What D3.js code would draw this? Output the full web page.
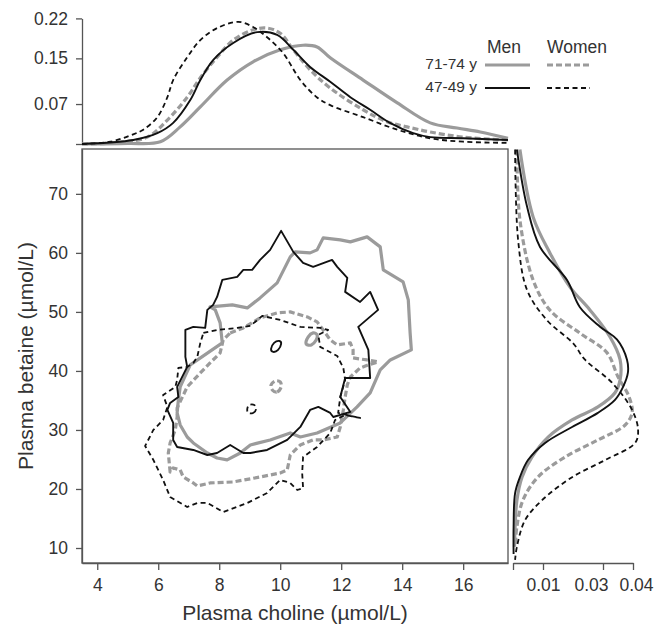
<!DOCTYPE html>
<html>
<head>
<meta charset="utf-8">
<script src="https://cdn.jsdelivr.net/npm/d3@7"></script>
<style>
  body { margin: 0; background: #fff; }
  svg text { font-family: "Liberation Sans", Arial, sans-serif; fill: #333; }
</style>
</head>
<body>
<svg id="chart" width="656" height="624"></svg>
<script>
// ---- data ----
const cholineTicks = [4, 6, 8, 10, 12, 14, 16];
const betaineTicks = [10, 20, 30, 40, 50, 60, 70];
const topDensTicks = [0, 0.07, 0.15, 0.22];
const sideDensTicks = [0, 0.01, 0.03, 0.04];

const legendCols = ["Men", "Women"];
const legendRows = ["71-74 y", "47-49 y"];

// choline density (top panel): [choline, density]
const cholOldMen = [[3.5,0],[5.0,0.001],[6.07,0.004],[6.72,0.03],[7.38,0.065],[8.26,0.112],[9.11,0.144],[10.0,0.165],[10.75,0.173],[11.21,0.17],[11.64,0.151],[12.72,0.112],[13.84,0.072],[14.92,0.037],[15.8,0.028],[16.56,0.021],[17.47,0.01]];
const cholOldWomen = [[3.5,0],[4.5,0.002],[5.64,0.012],[6.3,0.042],[6.95,0.082],[7.38,0.116],[7.93,0.152],[8.46,0.182],[9.11,0.2],[9.57,0.203],[10.0,0.194],[10.43,0.165],[10.98,0.13],[11.64,0.098],[12.72,0.06],[13.5,0.039],[14.16,0.03],[14.92,0.021],[16.0,0.012],[17.47,0.007]];
const cholYoungMen = [[3.5,0],[5.18,0.007],[5.97,0.019],[6.49,0.037],[7.05,0.077],[7.38,0.112],[7.8,0.147],[8.46,0.177],[9.25,0.196],[9.9,0.191],[10.43,0.165],[10.98,0.135],[11.64,0.109],[12.3,0.082],[12.95,0.06],[13.6,0.037],[14.36,0.019],[14.92,0.012],[16.0,0.01],[17.47,0.007]];
const cholYoungWomen = [[3.5,0],[4.43,0.004],[5.18,0.017],[5.51,0.025],[5.97,0.047],[6.3,0.082],[6.49,0.112],[6.95,0.152],[7.38,0.182],[7.93,0.203],[8.62,0.214],[9.11,0.205],[9.57,0.187],[10.1,0.159],[10.66,0.112],[11.2,0.082],[11.64,0.068],[12.72,0.047],[13.84,0.025],[14.92,0.01],[16.0,0.004],[17.47,0.002]];

// betaine density (right panel): [betaine, density]
const betOldMen = [[77.5,0.0023],[66.1,0.0067],[60.0,0.0123],[54.2,0.019],[50.3,0.0257],[45.8,0.0323],[41.9,0.0357],[38.5,0.0357],[36.3,0.034],[33.9,0.0283],[31.7,0.0197],[28.8,0.0117],[25.4,0.0063],[22.0,0.003],[18.1,0.0013],[13.6,0.0007],[10.2,0.0005]];
const betOldWomen = [[77.5,0.0013],[65.6,0.0023],[55.4,0.0067],[50.3,0.0123],[46.4,0.0223],[43.1,0.0313],[39.0,0.035],[35.6,0.0387],[32.9,0.0397],[30.8,0.0373],[28.3,0.0283],[25.4,0.0173],[22.0,0.0083],[18.1,0.0033],[13.6,0.0013],[10.2,0.0007]];
const betYoungMen = [[77.5,0.0013],[67.8,0.0047],[61.0,0.009],[55.4,0.018],[50.8,0.0223],[47.5,0.029],[45.3,0.0347],[41.9,0.038],[39.7,0.0383],[37.3,0.0367],[35.1,0.034],[32.9,0.0283],[30.5,0.0197],[27.8,0.0107],[24.9,0.005],[22.0,0.0023],[19.3,0.0007],[13.6,0.0002],[9.0,0.0002]];
const betYoungWomen = [[77.5,0.0007],[62.2,0.0017],[53.7,0.0047],[48.6,0.0113],[44.7,0.02],[41.9,0.024],[38.0,0.033],[33.4,0.0397],[30.0,0.0417],[27.8,0.0407],[24.9,0.0307],[22.0,0.0197],[18.1,0.0097],[14.7,0.004],[10.2,0.0013],[8.0,0.0007]];

// joint density contours: [choline, betaine]
const contOldMen = [[7.70,50.85],[8.43,51.19],[8.92,50.68],[9.34,52.37],[9.90,54.92],[10.33,59.32],[10.49,60.17],[10.98,60.0],[11.21,60.51],[11.41,62.54],[11.97,62.2],[12.30,61.86],[12.85,62.71],[13.28,61.02],[13.38,57.12],[14.03,55.08],[14.20,52.03],[14.26,46.44],[14.30,43.56],[13.61,41.86],[13.28,40.17],[12.95,36.27],[12.52,33.9],[11.97,31.19],[11.21,29.49],[10.66,28.81],[10.33,29.49],[9.67,28.31],[9.02,27.46],[8.69,26.1],[8.26,24.92],[7.93,25.25],[7.61,26.1],[7.15,27.8],[6.95,28.81],[6.72,30.85],[6.62,32.88],[6.66,35.08],[6.72,37.29],[7.05,41.02],[8.10,44.75],[8.03,48.14],[7.87,50.34]];
const contOldWomen = [[8.36,46.44],[8.79,47.29],[9.34,48.98],[9.90,49.83],[10.33,50.0],[10.89,49.15],[11.21,48.31],[11.41,46.95],[11.64,45.25],[11.87,44.41],[12.30,44.75],[12.39,43.56],[12.39,42.2],[12.85,41.86],[13.21,41.53],[12.89,41.02],[12.62,40.51],[12.30,38.98],[12.20,37.63],[12.13,35.59],[12.07,33.39],[11.97,30.51],[11.87,28.81],[11.41,28.31],[11.08,28.31],[10.66,27.46],[10.33,25.76],[10.23,23.22],[10.0,22.71],[9.34,22.03],[8.46,21.19],[7.70,21.02],[7.28,20.51],[7.15,21.02],[6.82,22.03],[6.72,23.22],[6.49,23.56],[6.39,22.88],[6.33,26.1],[6.39,27.8],[6.56,30.0],[6.62,32.2],[6.62,33.73],[6.95,37.29],[7.38,39.66],[7.70,41.36],[8.03,43.05],[8.13,45.25]];
const contYoungMen = [[10.03,63.73],[10.43,60.17],[10.75,58.31],[11.08,57.63],[11.70,58.81],[11.87,57.63],[12.20,55.76],[12.13,53.39],[12.62,51.69],[12.95,53.39],[13.21,50.34],[12.56,47.46],[12.89,43.56],[12.95,38.81],[12.13,38.81],[11.97,35.59],[12.30,33.05],[11.74,32.2],[11.64,32.88],[11.25,33.9],[10.98,33.39],[10.66,30.51],[10.23,28.31],[9.57,26.61],[9.02,26.1],[8.79,26.1],[8.36,27.46],[7.93,26.1],[7.61,25.76],[7.15,26.61],[6.62,27.12],[6.49,28.31],[6.49,31.19],[6.30,33.39],[6.39,34.58],[6.66,35.59],[6.62,37.29],[6.95,40.68],[6.89,42.37],[6.89,46.95],[7.15,47.46],[7.54,47.29],[7.61,50.34],[7.80,51.19],[7.93,52.54],[8.10,55.42],[8.59,55.93],[8.79,57.12],[9.08,57.12],[9.34,58.81],[9.67,60.51]];
const contYoungWomen = [[7.48,46.44],[7.93,46.95],[8.59,47.29],[9.02,47.63],[9.41,49.32],[10.0,48.64],[10.66,47.46],[11.31,47.29],[11.57,46.95],[11.25,46.1],[11.31,44.07],[11.87,42.54],[12.07,40.51],[12.13,38.47],[11.97,35.59],[11.90,32.88],[12.30,32.37],[12.62,32.03],[12.13,32.54],[11.80,31.69],[11.64,29.49],[11.21,27.12],[10.75,25.42],[10.72,22.71],[10.75,20.17],[10.56,19.83],[10.33,21.02],[10.0,21.53],[9.57,19.32],[8.92,17.63],[8.13,16.1],[7.61,17.63],[7.28,17.63],[6.95,16.95],[6.39,18.64],[6.16,21.53],[5.84,24.92],[5.57,27.29],[5.84,30.0],[6.16,31.69],[6.30,33.9],[6.16,35.93],[6.56,37.29],[6.62,38.47],[6.66,40.51],[6.95,40.68],[7.15,41.36],[7.28,42.37],[7.38,44.75]];

// small inner contours
const coreOldMen = [[10.85,44.58],[11.02,44.41],[11.18,45.25],[11.21,46.1],[11.08,46.44],[10.92,45.76]];
const coreOldWomen = [[9.74,36.78],[9.90,36.44],[10.03,37.29],[10.0,38.14],[9.84,38.31],[9.70,37.63]];
const coreYoungMen = [[9.77,43.22],[9.93,43.56],[10.03,44.58],[9.97,45.08],[9.80,44.75],[9.70,43.73]];
const coreYoungWomen = [[8.95,32.88],[9.11,32.88],[9.21,33.56],[9.15,34.24],[8.98,34.24],[8.92,33.56]];

// ---- styles ----
const GRAY = "#9b9b9b", BLACK = "#111";
const styles = {
  oldMen:     { stroke: GRAY,  width: 3.2, dash: null },
  oldWomen:   { stroke: GRAY,  width: 3.2, dash: "6,3" },
  youngMen:   { stroke: BLACK, width: 1.9, dash: null },
  youngWomen: { stroke: BLACK, width: 1.8, dash: "5,3.5" }
};

const groups = [
  { key: "oldWomen",   chol: cholOldWomen,   bet: betOldWomen,   cont: contOldWomen,   core: coreOldWomen },
  { key: "oldMen",     chol: cholOldMen,     bet: betOldMen,     cont: contOldMen,     core: coreOldMen },
  { key: "youngWomen", chol: cholYoungWomen, bet: betYoungWomen, cont: contYoungWomen, core: coreYoungWomen },
  { key: "youngMen",   chol: cholYoungMen,   bet: betYoungMen,   cont: contYoungMen,   core: coreYoungMen }
];

const svg = d3.select("#chart");
const AXIS = "#555", FS = 17.5;

// scales
const x = d3.scaleLinear().domain([3.5, 17.47]).range([82, 508]);
const y = d3.scaleLinear().domain([7.46, 77.6]).range([563, 149]);
const topY = d3.scaleLinear().domain([0, 0.22]).range([144, 18.4]);
const sideX = d3.scaleLinear().domain([0, 0.04]).range([513, 633]);

function styleAxis(g) {
  g.selectAll("path, line").attr("stroke", AXIS).attr("stroke-width", 1.3);
  g.selectAll("text").attr("font-size", FS).attr("font-family", "Liberation Sans, Arial, sans-serif").attr("fill", "#333");
}

function applyStyle(sel, k) {
  const s = styles[k];
  sel.attr("fill", "none")
    .attr("stroke", s.stroke)
    .attr("stroke-width", s.width)
    .attr("stroke-dasharray", s.dash)
    .attr("stroke-linejoin", "round");
}

// main frame
svg.append("rect")
  .attr("x", 82).attr("y", 149)
  .attr("width", 508 - 82).attr("height", 563 - 149)
  .attr("fill", "none").attr("stroke", AXIS).attr("stroke-width", 1.3);

// axes
svg.append("g").attr("transform", "translate(0,563)")
  .call(d3.axisBottom(x).tickValues(cholineTicks).tickSize(7).tickPadding(9).tickSizeOuter(0))
  .call(styleAxis);

svg.append("g").attr("transform", "translate(82,0)")
  .call(d3.axisLeft(y).tickValues(betaineTicks).tickSize(6).tickPadding(8).tickSizeOuter(0))
  .call(styleAxis);

svg.append("g").attr("transform", "translate(82,0)")
  .call(d3.axisLeft(topY).tickValues(topDensTicks).tickSize(6).tickPadding(8).tickSizeOuter(0)
    .tickFormat(d => d === 0 ? "" : d3.format(".2f")(d)))
  .call(styleAxis);

const sideAxis = svg.append("g").attr("transform", "translate(0,563)")
  .call(d3.axisBottom(sideX).tickValues(sideDensTicks).tickSize(7).tickPadding(9).tickSizeOuter(0)
    .tickFormat(d => d === 0 ? "" : d3.format(".2f")(d)))
  .call(styleAxis);
// the two right-most labels are nudged apart, as in the original
sideAxis.selectAll(".tick text")
  .attr("dx", d => d === 0.03 ? -12 : d === 0.04 ? 3 : 0);

// axis titles
svg.append("text")
  .attr("x", 295).attr("y", 620)
  .attr("text-anchor", "middle").attr("font-size", 21)
  .text("Plasma choline (\u00b5mol/L)");

svg.append("text")
  .attr("transform", "translate(33,356) rotate(-90)")
  .attr("text-anchor", "middle").attr("font-size", 21)
  .text("Plasma betaine (\u00b5mol/L)");

// lines
const topLine = d3.line().x(d => x(d[0])).y(d => topY(d[1])).curve(d3.curveCatmullRom.alpha(0.5));
const sideLine = d3.line().x(d => sideX(d[1])).y(d => y(d[0])).curve(d3.curveCatmullRom.alpha(0.5));
const contLine = d3.line().x(d => x(d[0])).y(d => y(d[1])).curve(d3.curveLinearClosed);
const coreLine = d3.line().x(d => x(d[0])).y(d => y(d[1])).curve(d3.curveCardinalClosed);

groups.forEach(g => {
  svg.append("path").attr("d", topLine(g.chol)).call(applyStyle, g.key);
  svg.append("path").attr("d", sideLine(g.bet)).call(applyStyle, g.key);
  svg.append("path").attr("d", contLine(g.cont)).call(applyStyle, g.key);
  svg.append("path").attr("d", coreLine(g.core)).call(applyStyle, g.key);
});

// legend
const legKeys = [["oldMen", "oldWomen"], ["youngMen", "youngWomen"]];
const colX = [485, 547], rowY = [65, 88];
legendCols.forEach((c, i) => {
  svg.append("text").attr("x", colX[i] + (i === 0 ? 2 : 0)).attr("y", 53)
    .attr("font-size", FS).text(c);
});
legendRows.forEach((r, j) => {
  svg.append("text").attr("x", 477).attr("y", rowY[j] + 4)
    .attr("text-anchor", "end").attr("font-size", 15.5).text(r);
  legKeys[j].forEach((k, i) => {
    svg.append("line")
      .attr("x1", colX[i]).attr("x2", colX[i] + (i === 0 ? 45 : 43))
      .attr("y1", rowY[j]).attr("y2", rowY[j])
      .call(applyStyle, k);
  });
});
</script>
</body>
</html>
